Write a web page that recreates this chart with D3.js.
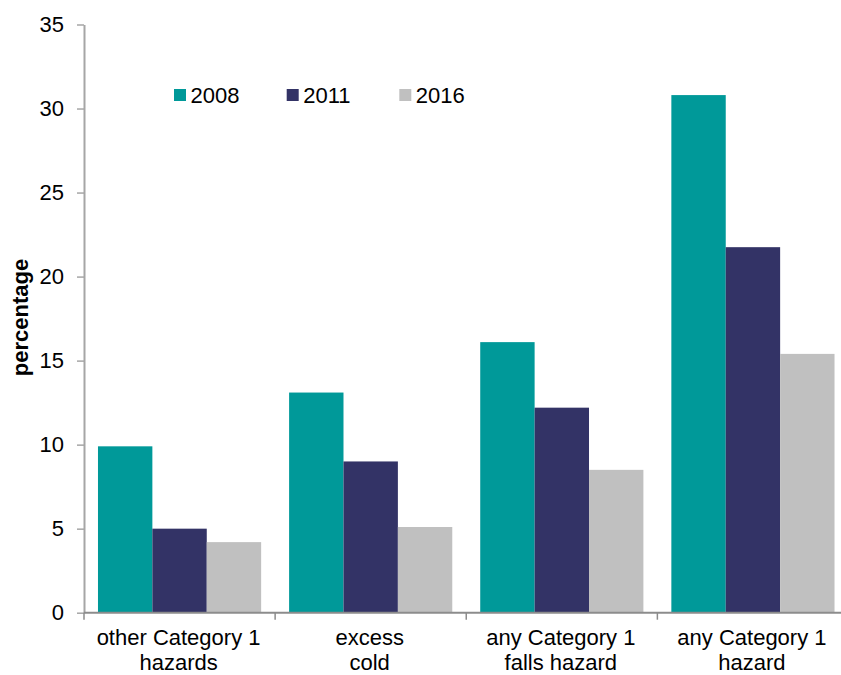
<!DOCTYPE html>
<html><head><meta charset="utf-8">
<script src="https://cdn.jsdelivr.net/npm/d3@7"></script>
<style>body{margin:0;background:#fff;} svg{display:block;font-family:"Liberation Sans",Arial,sans-serif;}</style>
</head><body>
<script>
const categories = [["other Category 1","hazards"],["excess","cold"],["any Category 1","falls hazard"],["any Category 1","hazard"]];
const seriesNames = ["2008","2011","2016"];
const values2008 = [9.9, 13.1, 16.1, 30.8];
const values2011 = [5.0, 9.0, 12.2, 21.75];
const values2016 = [4.2, 5.1, 8.5, 15.4];
const yTicks = [0,5,10,15,20,25,30,35];
const colors = ["#009999","#333366","#c0c0c0"];

const W = 841, H = 675;
const svg = d3.select("body").append("svg").attr("width",W).attr("height",H);
const mLeft = 84, mRight = 848.5, mTop = 24.5, mBottom = 612.7;
const keys = categories.map((c,i)=>i);
const x = d3.scaleBand().domain(keys).range([mLeft,mRight]).paddingInner(0).paddingOuter(0);
const xs = d3.scaleBand().domain(seriesNames).range([0,x.bandwidth()]).paddingOuter(0.257).paddingInner(0);
const y = d3.scaleLinear().domain([0,35]).range([mBottom,mTop]);
const series = [values2008, values2011, values2016];

// bars
series.forEach((vals,si)=>{
  svg.append("g").selectAll("rect").data(vals).join("rect")
    .attr("x",(d,i)=>x(i)+xs(seriesNames[si]))
    .attr("width",xs.bandwidth())
    .attr("y",d=>y(d))
    .attr("height",d=>mBottom-y(d))
    .attr("fill",colors[si]);
});

// y axis
const ya = svg.append("g").attr("transform",`translate(${mLeft},0)`)
  .call(d3.axisLeft(y).tickValues(yTicks).tickSize(7).tickPadding(13).tickSizeOuter(0));
ya.select(".domain").attr("stroke","#a6a6a6").attr("stroke-width",2);
ya.selectAll(".tick line").attr("stroke","#a6a6a6").attr("stroke-width",1.5);
ya.selectAll(".tick text").attr("font-size",22).attr("fill","#000").attr("font-family","Liberation Sans, Arial, sans-serif");

// x axis
const xa = svg.append("g").attr("transform",`translate(0,${mBottom})`);
xa.append("line").attr("x1",mLeft).attr("x2",W).attr("y1",0).attr("y2",0).attr("stroke","#8c8c8c").attr("stroke-width",2);
const bounds = [0,1,2,3].map(i=>x(i)).concat([x(3)+x.bandwidth()]);
xa.selectAll("line.tk").data(bounds).join("line").attr("class","tk")
  .attr("x1",d=>d).attr("x2",d=>d).attr("y1",0).attr("y2",7).attr("stroke","#8c8c8c").attr("stroke-width",1.5);
const lbl = xa.selectAll("text.cat").data(categories).join("text").attr("class","cat")
  .attr("text-anchor","middle").attr("font-size",22).attr("fill","#000");
lbl.each(function(d,i){
  const t = d3.select(this);
  const cx = x(i)+x.bandwidth()/2 - 1;
  d.forEach((line,j)=>t.append("tspan").attr("x",cx).attr("y",32.5+j*24.7).text(line));
});

// y title
svg.append("text").attr("transform","translate(28,317.5) rotate(-90)")
  .attr("text-anchor","middle").attr("font-size",22).attr("font-weight","bold").attr("fill","#000").text("percentage");

// legend
const legX = [174, 286.7, 399.3];
const lg = svg.append("g");
seriesNames.forEach((n,i)=>{
  lg.append("rect").attr("x",legX[i]).attr("y",89).attr("width",12).attr("height",12).attr("fill",colors[i]);
  lg.append("text").attr("x",legX[i]+16.5).attr("y",102.5).attr("font-size",22).attr("fill","#000").text(n);
});
</script>
</body></html>
